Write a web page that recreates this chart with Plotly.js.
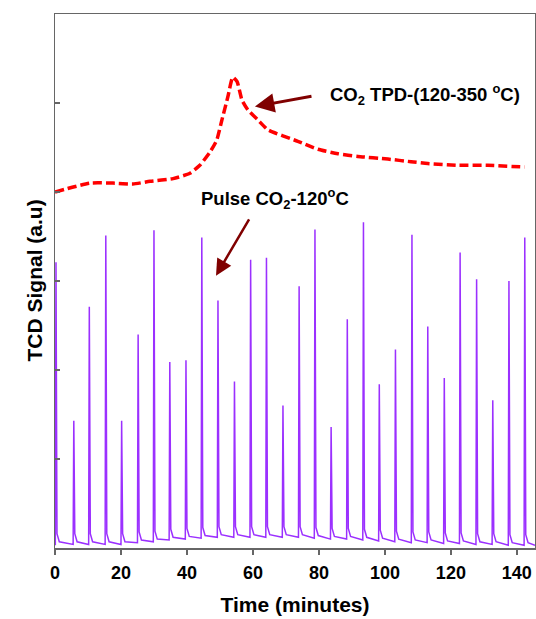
<!DOCTYPE html>
<html>
<head>
<meta charset="utf-8">
<script src="https://cdn.plot.ly/plotly-3.0.1.min.js"></script>
<style>html,body{margin:0;padding:0;background:#fff;}#chart{width:536px;height:619px;}</style>
</head>
<body>
<div id="chart"></div>
<script>
// Pulse CO2 at 120 °C: peak times (minutes), peak heights and baseline level (a.u.)
const pulseTimes = [0.3, 5.7, 10.4, 15.4, 20.2, 25.2, 30.0, 34.8, 39.7, 44.5, 49.4, 54.4, 59.3, 64.1, 69.1,
                    74.0, 78.8, 83.7, 88.6, 93.5, 98.3, 103.2, 108.2, 113.0, 118.0, 122.8, 127.8, 132.7, 137.6, 142.4];
const pulseHeights = [3.21, 1.43, 2.71, 3.51, 1.43, 2.40, 3.57, 2.09, 2.11, 3.49, 2.78, 1.87, 3.24, 3.26, 1.60,
                      2.94, 3.58, 1.36, 2.57, 3.66, 1.84, 2.23, 3.52, 2.49, 1.91, 3.32, 3.02, 1.66, 3.00, 3.49];
const pulseBaseline = [0.04, 0.04, 0.04, 0.04, 0.04, 0.06, 0.07, 0.09, 0.10, 0.11, 0.12, 0.12, 0.12, 0.12, 0.12,
                       0.12, 0.11, 0.10, 0.10, 0.09, 0.08, 0.07, 0.06, 0.06, 0.05, 0.05, 0.04, 0.04, 0.03, 0.03];

// CO2 TPD (120-350 °C) curve
const tpdTime = [0, 10.6, 17.6, 23.6, 28.8, 35.8, 40.9, 43.9, 47.0, 49.0, 50.6, 52.4, 53.9, 55.2, 56.7, 58.5,
                 61.5, 64.5, 73.6, 79.7, 85.8, 91.8, 100.9, 107.9, 113.0, 122.1, 131.2, 142.4];
const tpdSignal = [4.00, 4.10, 4.10, 4.09, 4.12, 4.15, 4.21, 4.30, 4.45, 4.58, 4.81, 5.07, 5.29, 5.24, 5.03, 4.92,
                   4.81, 4.70, 4.57, 4.48, 4.43, 4.40, 4.37, 4.34, 4.32, 4.30, 4.30, 4.28];

const xTicks = [0, 20, 40, 60, 80, 100, 120, 140];

// build the pulse trace from the peak table
const px = [0], py = [pulseBaseline[0]];
for (let i = 0; i < pulseTimes.length; i++) {
  const t = pulseTimes[i], b = pulseBaseline[i];
  if (t - 0.2 > 0) { px.push(t - 0.2); py.push(b); }
  px.push(t); py.push(pulseHeights[i]);
  px.push(t + 0.3); py.push(b + 0.12);
  px.push(t + 1.0); py.push(b + 0.03);
}
px.push(145.5); py.push(pulseBaseline[pulseBaseline.length - 1]);

const FONT = 'Liberation Sans, Arial, sans-serif';
const arrowColor = '#800000';

const data = [
  {x: px, y: py, type: 'scatter', mode: 'lines', line: {color: '#9b30ff', width: 1.5}, hoverinfo: 'skip'},
  {x: tpdTime, y: tpdSignal, type: 'scatter', mode: 'lines', line: {color: '#ff0000', width: 3.5, dash: '9px,4px', shape: 'spline', smoothing: 0.5}}
];

const layout = {
  width: 536, height: 619,
  margin: {l: 55, r: 1, t: 14, b: 71},
  paper_bgcolor: '#fff', plot_bgcolor: '#fff',
  showlegend: false,
  font: {family: FONT, color: '#000'},
  xaxis: {
    range: [0, 145.5], tickvals: xTicks, ticktext: xTicks.map(String),
    ticks: 'outside', ticklen: 5, tickwidth: 1.5, tickcolor: '#666', ticklabelstandoff: 3,
    showline: true, linecolor: '#666', linewidth: 1.5, mirror: true,
    showgrid: false, zeroline: false,
    tickfont: {family: FONT, size: 18, weight: 'bold', color: '#000'},
    title: {text: 'Time (minutes)', font: {family: FONT, size: 21, weight: 'bold', color: '#000'}, standoff: 15}
  },
  yaxis: {
    range: [0, 6], dtick: 1, tick0: 0,
    ticks: 'inside', ticklen: 5, tickwidth: 1.5, tickcolor: '#666',
    showticklabels: false,
    showline: true, linecolor: '#666', linewidth: 1.5, mirror: true,
    showgrid: false, zeroline: false
  },
  annotations: [
    {x: 0, y: 0.5, xref: 'paper', yref: 'paper', xshift: -35, text: 'TCD Signal (a.u)', textangle: -90, showarrow: false,
     font: {family: FONT, size: 21, weight: 'bold', color: '#000'}},
    {x: 112.1, y: 5.09, xref: 'x', yref: 'y', text: 'CO<sub>2</sub> TPD-(120-350 <sup>o</sup>C)', showarrow: false,
     font: {family: FONT, size: 18.5, weight: 'bold', color: '#000'}},
    {x: 66.7, y: 3.93, xref: 'x', yref: 'y', text: 'Pulse CO<sub>2</sub>-120<sup>o</sup>C', showarrow: false,
     font: {family: FONT, size: 18.5, weight: 'bold', color: '#000'}},
    {x: 60.6, y: 4.96, xref: 'x', yref: 'y', ax: 78.2, ay: 5.08, axref: 'x', ayref: 'y', text: '',
     showarrow: true, arrowhead: 2, arrowsize: 1.3, arrowwidth: 3, arrowcolor: arrowColor},
    {x: 48.8, y: 3.06, xref: 'x', yref: 'y', ax: 59.1, ay: 3.71, axref: 'x', ayref: 'y', text: '',
     showarrow: true, arrowhead: 2, arrowsize: 1.3, arrowwidth: 2.5, arrowcolor: arrowColor}
  ]
};

Plotly.newPlot('chart', data, layout, {staticPlot: true, displayModeBar: false});
</script>
</body>
</html>
